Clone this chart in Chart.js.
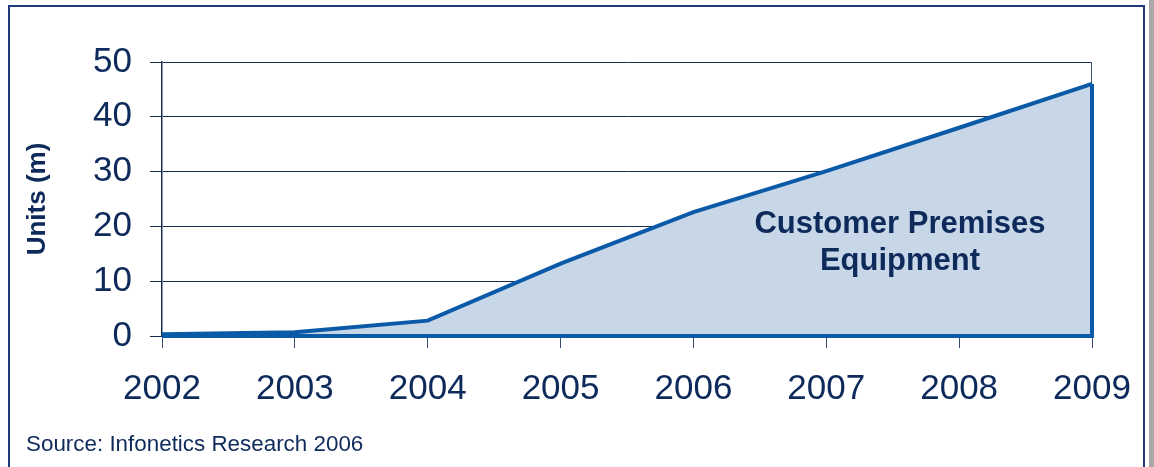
<!DOCTYPE html>
<html>
<head>
<meta charset="utf-8">
<script src="https://cdn.jsdelivr.net/npm/chart.js@4"></script>
<style>
    html, body { margin: 0; padding: 0; background: #fff; }
    body { width: 1154px; height: 467px; position: relative; overflow: hidden; }
    #frame {
        position: absolute; left: 8px; top: 5px; width: 1137px; height: 480px;
        border: 2px solid #1f3a78; box-sizing: border-box;
    }
    #strip { position: absolute; left: 1149px; top: 0; width: 5px; height: 467px; background: #a8a8a8; }
    #chart1 { position: absolute; left: 0; top: 0; }
    #source {
        position: absolute; left: 26px; top: 431px;
        font: 22.4px "Liberation Sans", Arial, sans-serif; color: #0d2a5b;
    }
</style>
</head>
<body>
<div id="frame"></div>
<div id="strip"></div>
<canvas id="chart1" width="1154" height="467"></canvas>
<div id="source">Source: Infonetics Research 2006</div>
<script>
const years = ["2002", "2003", "2004", "2005", "2006", "2007", "2008", "2009"];
const units = [0.3, 0.7, 2.8, 13.2, 22.6, 30.1, 38.0, 46.0];
const yTicks = [0, 10, 20, 30, 40, 50];
const seriesLabel = ["Customer Premises", "Equipment"];

const navy = "#0d2a5b";
const lineBlue = "#0a5aa8";

// plot frame on the right side, under the area
const plotFrame = {
    id: "plotFrame",
    beforeDatasetsDraw(chart) {
        const a = chart.chartArea;
        const ctx = chart.ctx;
        ctx.save();
        ctx.strokeStyle = "#3b4f72";
        ctx.lineWidth = 1;
        ctx.beginPath();
        ctx.moveTo(a.right - 0.5, a.top);
        ctx.lineTo(a.right - 0.5, a.bottom);
        ctx.stroke();
        ctx.restore();
    }
};

// outline of the area: baseline and the closing right edge
const areaEdges = {
    id: "areaEdges",
    afterDatasetsDraw(chart) {
        const ctx = chart.ctx;
        const x = chart.scales.x;
        const y = chart.scales.y;
        const last = units.length - 1;
        ctx.save();
        ctx.strokeStyle = lineBlue;
        ctx.lineWidth = 4;
        ctx.beginPath();
        ctx.moveTo(x.getPixelForValue(0), y.getPixelForValue(0));
        ctx.lineTo(x.getPixelForValue(last), y.getPixelForValue(0));
        ctx.lineTo(x.getPixelForValue(last), y.getPixelForValue(units[last]));
        ctx.stroke();

        ctx.fillStyle = navy;
        ctx.font = "bold 31px 'Liberation Sans', Arial, sans-serif";
        ctx.textAlign = "center";
        ctx.textBaseline = "middle";
        ctx.fillText(seriesLabel[0], 900, 224);
        ctx.fillText(seriesLabel[1], 900, 261);
        ctx.restore();
    }
};

const ctx = document.getElementById("chart1").getContext("2d");
new Chart(ctx, {
    type: "line",
    data: {
        labels: years,
        datasets: [{
            data: units,
            borderColor: lineBlue,
            borderWidth: 4,
            backgroundColor: "#c7d7e8",
            fill: "origin",
            pointRadius: 0,
            tension: 0
        }]
    },
    options: {
        responsive: false,
        animation: false,
        devicePixelRatio: 1,
        layout: {padding: {top: 62, right: 62, left: 0, bottom: 0}},
        plugins: {legend: {display: false}, tooltip: {enabled: false}},
        scales: {
            x: {
                offset: false,
                grid: {drawOnChartArea: false, color: "#3b4f72", tickLength: 12, lineWidth: 1},
                border: {color: "#1a2b50", width: 1},
                ticks: {
                    color: navy, padding: 20, maxRotation: 0,
                    font: {family: "'Liberation Sans', Arial, sans-serif", size: 35}
                },
                afterFit: s => { s.height = 131; }
            },
            y: {
                min: 0, max: 50,
                afterBuildTicks: s => { s.ticks = yTicks.map(v => ({value: v})); },
                grid: {color: "#1a2b50", tickLength: 12, lineWidth: 1},
                border: {color: "#1a2b50", width: 1.5},
                ticks: {
                    color: navy, padding: 18,
                    font: {family: "'Liberation Sans', Arial, sans-serif", size: 35}
                },
                title: {
                    display: true, text: "Units (m)", color: navy,
                    font: {family: "'Liberation Sans', Arial, sans-serif", size: 26, weight: "bold"},
                    padding: {top: 22, bottom: 0}
                },
                afterFit: s => { s.width = 162; }
            }
        }
    },
    plugins: [plotFrame, areaEdges]
});
</script>
</body>
</html>
